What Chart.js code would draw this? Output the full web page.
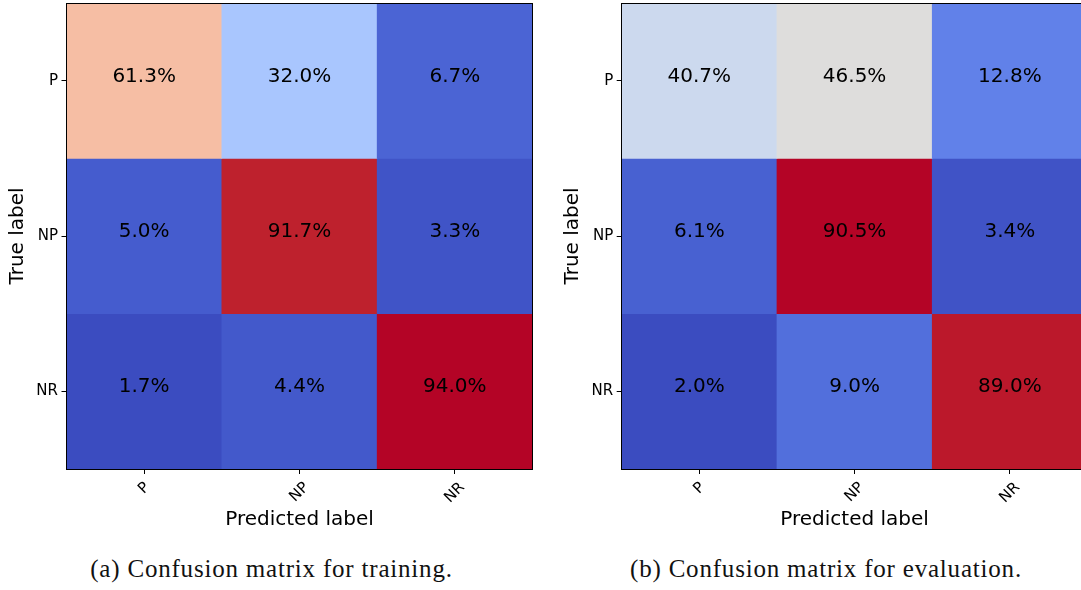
<!DOCTYPE html>
<html>
<head>
<meta charset="utf-8">
<script src="https://cdn.jsdelivr.net/npm/chart.js@4/dist/chart.umd.min.js"></script>
<style>
  html, body { margin: 0; padding: 0; background: #fff; overflow: hidden; }
  body { width: 1081px; height: 590px; position: relative; }
  canvas { position: absolute; top: 0; }
  #cmTrain { left: 0; }
  #cmEval { left: 555px; }
  .caption {
    position: absolute; top: 553px; height: 32px; line-height: 32px;
    font-family: "Liberation Serif", serif; font-size: 25px; letter-spacing: 0.8px;
    color: #111; text-align: center; white-space: nowrap;
  }
</style>
</head>
<body>
<canvas id="cmTrain" width="545" height="540"></canvas>
<canvas id="cmEval" width="545" height="540"></canvas>
<div class="caption" style="left:0; width:543px;">(a) Confusion matrix for training.</div>
<div class="caption" style="left:555px; width:542px;">(b) Confusion matrix for evaluation.</div>
<script>
// Class labels (rows = true, columns = predicted)
const colLabels = ['P', 'NP', 'NR'];
const rowLabels = ['P', 'NP', 'NR'];

// Row-normalised percentages
const trainRowP  = [61.3, 32.0, 6.7];
const trainRowNP = [5.0, 91.7, 3.3];
const trainRowNR = [1.7, 4.4, 94.0];

const evalRowP  = [40.7, 46.5, 12.8];
const evalRowNP = [6.1, 90.5, 3.4];
const evalRowNR = [2.0, 9.0, 89.0];

const FONT = 'DejaVu Sans';
const TICK_SIZE = 15;

// Diverging blue-white-red colour ramp (coolwarm)
const COOLWARM = [
  [59,76,192],[68,90,204],[77,104,215],[87,117,225],[98,130,234],[108,142,241],
  [119,154,247],[130,165,251],[141,176,254],[152,185,255],[163,194,255],[174,201,253],
  [184,208,249],[194,213,244],[204,217,238],[213,219,230],[221,221,221],[229,216,209],
  [236,211,197],[241,204,185],[245,196,173],[247,187,160],[247,177,148],[247,166,135],
  [244,154,123],[241,141,111],[236,127,99],[229,112,88],[222,96,77],[213,80,66],
  [203,62,56],[192,40,47],[180,4,38]
];
function coolwarm(t) {
  t = Math.max(0, Math.min(1, t));
  const p = t * (COOLWARM.length - 1);
  const i = Math.min(Math.floor(p), COOLWARM.length - 2);
  const f = p - i;
  const a = COOLWARM[i], b = COOLWARM[i + 1];
  const c = a.map((v, k) => Math.round(v + (b[k] - v) * f));
  return `rgb(${c[0]},${c[1]},${c[2]})`;
}

// Writes the percentage into the middle of each cell
const cellText = {
  id: 'cellText',
  afterDatasetsDraw(chart) {
    const { ctx, scales: { x, y } } = chart;
    const m = chart.options.plugins.cellText.matrix;
    ctx.save();
    ctx.font = `20px "${FONT}"`;
    ctx.fillStyle = '#000';
    ctx.textAlign = 'center';
    ctx.textBaseline = 'alphabetic';
    m.forEach((row, r) => row.forEach((v, c) => {
      const px = x.getPixelForValue(c);
      const py = y.getPixelForValue(r + 0.5);
      ctx.fillText(v.toFixed(1) + '%', px, py + 1);
    }));
    ctx.restore();
  }
};

// Frame around the plot and 45-degree column labels
const frameAndLabels = {
  id: 'frameAndLabels',
  afterDraw(chart) {
    const { ctx, chartArea: a, scales: { x } } = chart;
    ctx.save();
    ctx.strokeStyle = '#000';
    ctx.lineWidth = 1;
    const l = Math.floor(a.left), t = Math.floor(a.top);
    ctx.strokeRect(l + 0.5, t + 0.5, Math.round(a.right - a.left), Math.round(a.bottom - a.top));
    ctx.font = `${TICK_SIZE}px "${FONT}"`;
    ctx.fillStyle = '#000';
    ctx.textAlign = 'center';
    ctx.textBaseline = 'middle';
    const h = TICK_SIZE * 1.164;
    const top = a.bottom + 10;
    x.ticks.forEach((tick, i) => {
      const label = colLabels[i];
      const w = ctx.measureText(label).width;
      const px = x.getPixelForTick(i);
      const cy = top + (w + h) / Math.SQRT2 / 2;
      ctx.save();
      ctx.translate(px, cy);
      ctx.rotate(-Math.PI / 4);
      ctx.fillText(label, 0, 0);
      ctx.restore();
    });
    ctx.restore();
  }
};

function buildMatrix(id, rows, yAxisWidth) {
  const values = rows.flat();
  const vmin = Math.min(...values), vmax = Math.max(...values);
  const datasets = rows.map((row, r) => ({
    data: row.map(() => [r, r + 1]),
    backgroundColor: row.map(v => coolwarm((v - vmin) / (vmax - vmin))),
    borderWidth: 0
  }));
  const axisGrid = {
    display: true, drawOnChartArea: false, drawTicks: true,
    tickLength: 5, color: '#000', lineWidth: 1, offset: false
  };
  return new Chart(document.getElementById(id), {
    type: 'bar',
    data: { labels: colLabels, datasets },
    options: {
      responsive: false,
      animation: false,
      devicePixelRatio: 1,
      layout: { padding: { top: 3, right: 12.5, left: 0, bottom: 0 } },
      datasets: { bar: { barPercentage: 1, categoryPercentage: 1, grouped: false } },
      plugins: {
        legend: { display: false },
        tooltip: { enabled: false },
        cellText: { matrix: rows }
      },
      scales: {
        x: {
          type: 'category',
          offset: true,
          grid: axisGrid,
          border: { display: false },
          ticks: { display: false },
          title: {
            display: true, text: 'Predicted label', color: '#000',
            font: { family: FONT, size: 20, lineHeight: 1.2 },
            padding: { top: 0, bottom: 8.4 }
          },
          afterFit(s) { s.height = 71; s.paddingLeft = 0; s.paddingRight = 0; }
        },
        y: {
          type: 'linear',
          min: 0, max: rowLabels.length,
          reverse: true,
          grid: axisGrid,
          border: { display: false },
          afterBuildTicks(s) { s.ticks = rowLabels.map((_, i) => ({ value: i + 0.5 })); },
          ticks: {
            callback: (v, i) => rowLabels[i],
            color: '#000',
            font: { family: FONT, size: TICK_SIZE },
            padding: 3.5
          },
          title: {
            display: true, text: 'True label', color: '#000',
            font: { family: FONT, size: 20, lineHeight: 1.2 },
            padding: { top: 6.1, bottom: 0 }
          },
          afterFit(s) { s.width = yAxisWidth; s.paddingTop = 0; s.paddingBottom = 0; }
        }
      }
    },
    plugins: [cellText, frameAndLabels]
  });
}

buildMatrix('cmTrain', [trainRowP, trainRowNP, trainRowNR], 66.5);
buildMatrix('cmEval', [evalRowP, evalRowNP, evalRowNR], 66.7);
</script>
</body>
</html>
